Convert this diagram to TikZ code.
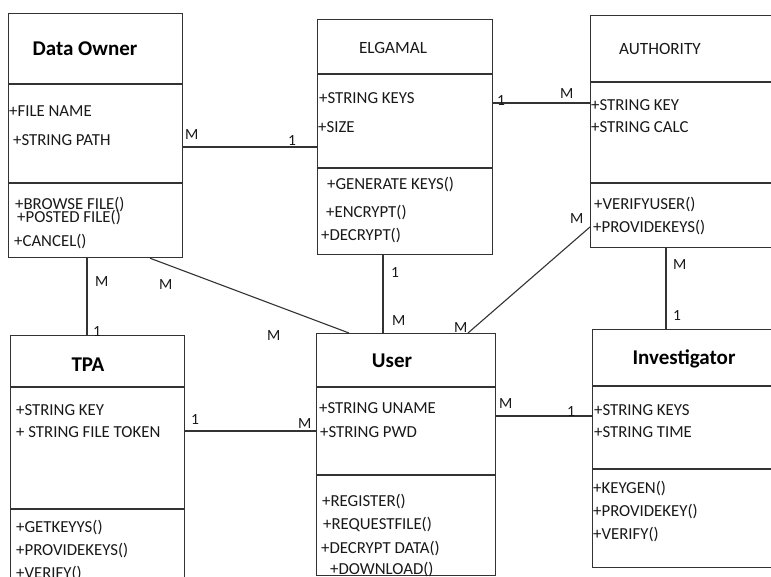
\documentclass[tikz,border=0pt]{standalone}
\usepackage{fontspec}
\setmainfont{Carlito}
\begin{document}
\begin{tikzpicture}[x=1pt,y=-1pt,
  box/.style={draw=black!80, line width=1.2pt, rectangle, anchor=north west, inner sep=0pt},
  div/.style={draw=black!80, line width=1.2pt},
  conn/.style={draw=black!80, line width=1.1pt},
  attr/.style={anchor=base west, font=\fontsize{16.8}{20}\selectfont, inner sep=0pt, text=black!90},
  ttl/.style={anchor=center, font=\fontsize{21}{25}\selectfont\bfseries, inner sep=0pt, text=black},
  ttlr/.style={anchor=center, font=\fontsize{17.2}{20}\selectfont, inner sep=0pt, text=black!90},
  mult/.style={anchor=base west, font=\fontsize{15.5}{18}\selectfont, inner sep=0pt, text=black!90}]
\path[use as bounding box, clip] (0,0) rectangle (771,577);
\fill[white] (0,0) rectangle (771,577);

% ---- boxes
\node[box, minimum width=174pt, minimum height=244pt] (do) at (8,13) {};
\node[box, minimum width=175pt, minimum height=235pt] (el) at (317,19) {};
\node[box, minimum width=210pt, minimum height=232pt] (au) at (590,15) {};
\node[box, minimum width=174pt, minimum height=265pt] (tpa) at (10,335) {};
\node[box, minimum width=179pt, minimum height=242pt] (us) at (316,333) {};
\node[box, minimum width=210pt, minimum height=238pt] (inv) at (592,329) {};

% ---- dividers
\draw[div] (do.west |- 0,84) -- (do.east |- 0,84);
\draw[div] (do.west |- 0,183) -- (do.east |- 0,183);
\draw[div] (el.west |- 0,74) -- (el.east |- 0,74);
\draw[div] (el.west |- 0,168) -- (el.east |- 0,168);
\draw[div] (au.west |- 0,82) -- (au.east |- 0,82);
\draw[div] (au.west |- 0,183) -- (au.east |- 0,183);
\draw[div] (tpa.west |- 0,387) -- (tpa.east |- 0,387);
\draw[div] (tpa.west |- 0,509) -- (tpa.east |- 0,509);
\draw[div] (us.west |- 0,387) -- (us.east |- 0,387);
\draw[div] (us.west |- 0,475) -- (us.east |- 0,475);
\draw[div] (inv.west |- 0,386) -- (inv.east |- 0,386);
\draw[div] (inv.west |- 0,469) -- (inv.east |- 0,469);

% ---- titles
\node[ttl] (tdo) at (85,49) {Data Owner};
\node[ttlr] (tel) at (393,48) {ELGAMAL};
\node[ttlr] (tau) at (660,49) {AUTHORITY};
\node[ttl] (ttpa) at (88,365) {TPA};
\node[ttl] (tus) at (392,361) {User};
\node[ttl] (tinv) at (684,359) {Investigator};

% ---- Data Owner members
\node[attr] (do1) at (9,117) {+FILE NAME};
\node[attr] (do2) at (13,146) {+STRING PATH};
\node[attr] (do3) at (15,210) {+BROWSE FILE()};
\node[attr] (do4) at (17,223) {+POSTED FILE()};
\node[attr] (do5) at (14,247) {+CANCEL()};

% ---- ELGAMAL members
\node[attr] (el1) at (319,104) {+STRING KEYS};
\node[attr] (el2) at (318,133) {+SIZE};
\node[attr] (el3) at (327,190) {+GENERATE KEYS()};
\node[attr] (el4) at (326,218) {+ENCRYPT()};
\node[attr] (el5) at (321,241) {+DECRYPT()};

% ---- AUTHORITY members
\node[attr] (au1) at (591,111) {+STRING KEY};
\node[attr] (au2) at (591,133) {+STRING CALC};
\node[attr] (au3) at (594,210) {+VERIFYUSER()};
\node[attr] (au4) at (593,233) {+PROVIDEKEYS()};

% ---- TPA members
\node[attr] (tp1) at (16,415) {+STRING KEY};
\node[attr] (tp2) at (16,437) {+ STRING FILE TOKEN};
\node[attr] (tp3) at (16,532) {+GETKEYYS()};
\node[attr] (tp4) at (16,555) {+PROVIDEKEYS()};
\node[attr] (tp5) at (16,578) {+VERIFY()};

% ---- User members
\node[attr] (us1) at (319,413) {+STRING UNAME};
\node[attr] (us2) at (320,437) {+STRING PWD};
\node[attr] (us3) at (322,506) {+REGISTER()};
\node[attr] (us4) at (323,529) {+REQUESTFILE()};
\node[attr] (us5) at (321,553) {+DECRYPT DATA()};
\node[attr] (us6) at (330,574) {+DOWNLOAD()};

% ---- Investigator members
\node[attr] (in1) at (594,415) {+STRING KEYS};
\node[attr] (in2) at (594,437) {+STRING TIME};
\node[attr] (in3) at (593,493) {+KEYGEN()};
\node[attr] (in4) at (593,516) {+PROVIDEKEY()};
\node[attr] (in5) at (593,539) {+VERIFY()};

% ---- connectors
\draw[conn] (do.east |- 0,147) -- (el.west |- 0,147);
\draw[conn] (el.east |- 0,103) -- (au.west |- 0,103);
\draw[conn] (au.south -| 666,0) -- (inv.north -| 666,0);
\draw[conn] (us.east |- 0,416) -- (inv.west |- 0,416);
\draw[conn] (tpa.east |- 0,431) -- (us.west |- 0,431);
\draw[conn] (do.south -| 87,0) -- (tpa.north -| 87,0);
\draw[conn] (do.south -| 150,0) -- (us.north -| 349,0);
\draw[conn] (el.south -| 383,0) -- (us.north -| 383,0);
\draw[conn] (au.west |- 0,227) -- (us.north -| 468,0);

% ---- multiplicities
\node[mult] (m1) at (185,140) {M};
\node[mult] (m2) at (288,146) {1};
\node[mult] (m3) at (497,106) {1};
\node[mult] (m4) at (560,99) {M};
\node[mult] (m5) at (673,270) {M};
\node[mult] (m6) at (673,320) {1};
\node[mult] (m7) at (499,408) {M};
\node[mult] (m8) at (567,416) {1};
\node[mult] (m9) at (191,424) {1};
\node[mult] (m10) at (298,428) {M};
\node[mult] (m11) at (95,287) {M};
\node[mult] (m12) at (93,337) {1};
\node[mult] (m13) at (159,290) {M};
\node[mult] (m14) at (267,340) {M};
\node[mult] (m15) at (391,278) {1};
\node[mult] (m16) at (392,325) {M};
\node[mult] (m17) at (570,224) {M};
\node[mult] (m18) at (454,332) {M};
\end{tikzpicture}
\end{document}
